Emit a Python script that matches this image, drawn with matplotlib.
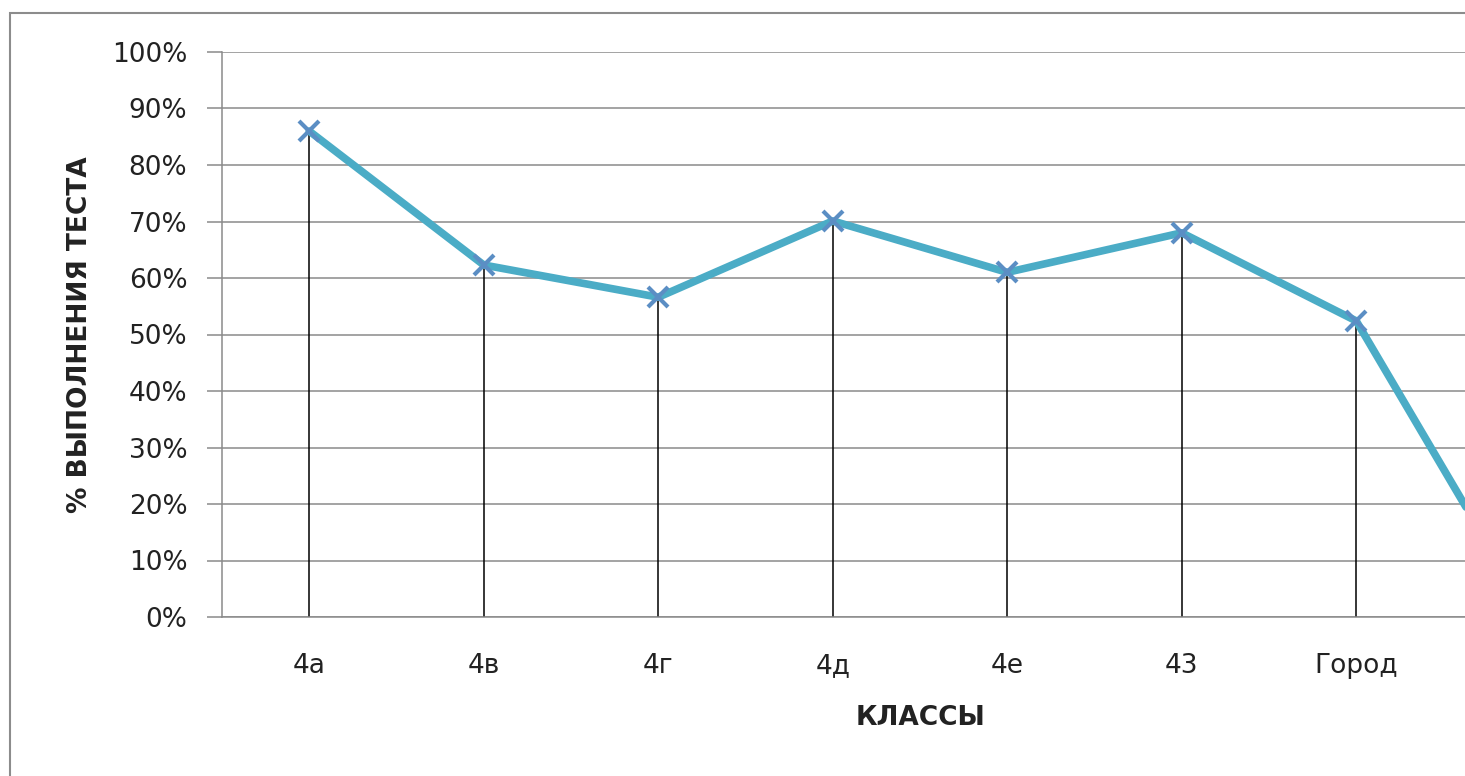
import matplotlib.pyplot as plt
from matplotlib.patches import Rectangle
from matplotlib.ticker import PercentFormatter

# classes and test completion share
classes = ['4а', '4в', '4г', '4д', '4е', '43', 'Город', '']
scores = [86, 62.3, 56.6, 70.1, 61, 68, 52.4, 0]
yticks = list(range(0, 101, 10))

plt.rcParams['font.family'] = ['DejaVu Sans']

W, H = 1465, 776
fig = plt.figure(figsize=(W / 100, H / 100), dpi=100)

# outer chart frame (right/bottom cut off in the reference)
fig.patches.append(Rectangle((10 / W, -0.1), 1.2, (H - 13) / H + 0.1,
                             transform=fig.transFigure, fill=False,
                             edgecolor='#8c8c8c', linewidth=1.5))

left, right, top, bottom = 222, 1618, 52, 617
ax = fig.add_axes([left / W, (H - bottom) / H, (right - left) / W, (bottom - top) / H])

x = list(range(len(classes)))
ax.vlines(x, 0, scores, colors='black', linewidth=1.1, zorder=2)
ax.plot(x, scores, color='#4BACC6', linewidth=5.5, solid_capstyle='round',
        marker='x', markersize=14, markeredgewidth=3,
        markeredgecolor='#5b8ec4', zorder=3, clip_on=False)

ax.set_xlim(-0.5, len(classes) - 0.5)
ax.set_ylim(0, 100)
ax.set_yticks(yticks)
ax.yaxis.set_major_formatter(PercentFormatter(decimals=0))
ax.set_xticks(x)
ax.set_xticklabels(classes)
ax.grid(axis='y', color='#8a8a8a', linewidth=1.1)
ax.set_axisbelow(True)

for side in ['top', 'right']:
    ax.spines[side].set_visible(False)
ax.spines['left'].set_color('#8a8a8a')
ax.spines['bottom'].set_color('#8a8a8a')
ax.spines['left'].set_linewidth(1.1)
ax.spines['bottom'].set_linewidth(1.1)

ax.tick_params(axis='y', length=11, color='#8a8a8a', width=1.1,
               labelsize=19, labelcolor='#222222', pad=14)
ax.tick_params(axis='x', length=0, labelsize=19, labelcolor='#222222', pad=26)

fig.text(80 / W, 1 - 335 / H, '% ВЫПОЛНЕНИЯ ТЕСТА', rotation=90,
         ha='center', va='center', fontsize=19, fontweight='bold', color='#222222')
fig.text(920 / W, 1 - 718 / H, 'КЛАССЫ', ha='center', va='center',
         fontsize=19, fontweight='bold', color='#222222')

fig.savefig('out.png', dpi=100)
